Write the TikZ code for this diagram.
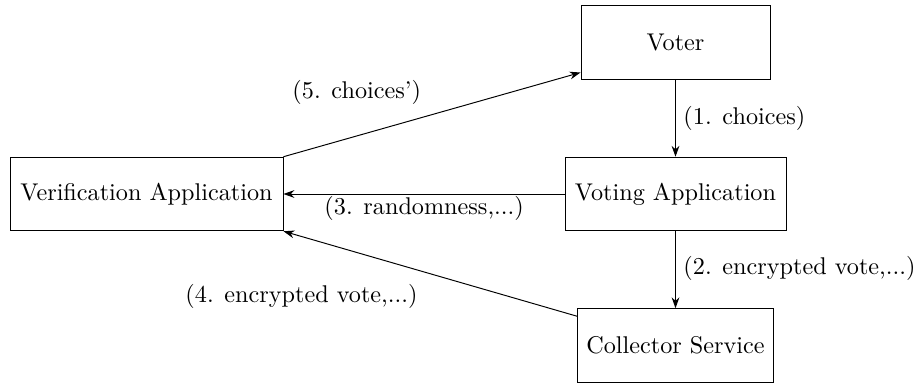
\documentclass[tikz,border=0pt]{standalone}
\usetikzlibrary{arrows.meta}
\begin{document}
\begin{tikzpicture}[x=0.4132pt,y=-0.4132pt,
  box/.style={draw,line width=0.4pt,minimum height=30.4pt,inner sep=0pt},
  lbl/.style={anchor=west,inner sep=0pt},
  arr/.style={-{Stealth[length=4.5pt,width=3.2pt]},line width=0.4pt}]
\useasboundingbox (0,0) rectangle (917,383);
\node[box,minimum width=78.1pt] (voter) at (675.5,42.5) {Voter};
\node[box,minimum width=112.8pt] (verif) at (146.5,194) {Verification Application};
\node[box,minimum width=91.3pt] (voting) at (675.5,194) {Voting Application};
\node[box,minimum width=81pt] (coll) at (675.5,345.5) {Collector Service};
\coordinate (v5) at ([yshift=3pt]voter.south west);
\draw[arr] (verif.north east) -- (v5);
\draw[arr] (voter.south) -- (voting.north);
\draw[arr] (voting.west) -- (verif.east);
\draw[arr] (voting.south) -- (coll.north);
\coordinate (c4) at ([yshift=-3.3pt]coll.north west);
\draw[arr] (c4) -- (verif.south east);
\node[lbl] (l5) at (292,92) {(5. choices')};
\node[lbl] (l1) at (683,118) {(1. choices)};
\node[lbl] (l3) at (324,208) {(3. randomness,...)};
\node[lbl] (l2) at (683,268) {(2. encrypted vote,...)};
\node[lbl] (l4) at (185,296) {(4. encrypted vote,...)};
\end{tikzpicture}
\end{document}
